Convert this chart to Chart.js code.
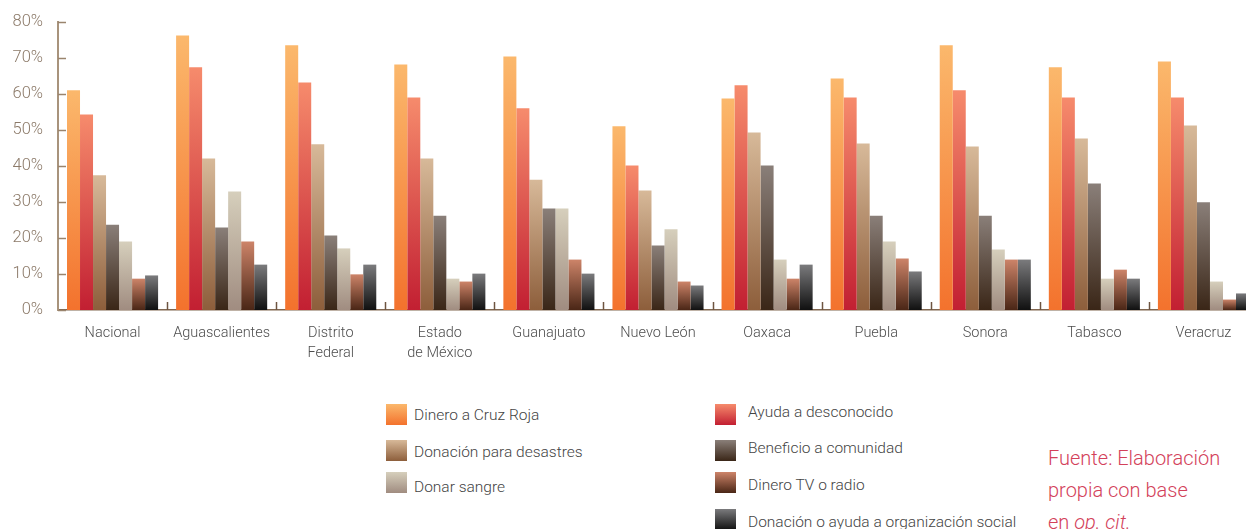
<!DOCTYPE html>
<html>
<head>
<meta charset="utf-8">
<script src="https://cdn.jsdelivr.net/npm/chart.js@4.4.1/dist/chart.umd.min.js"></script>
<style>
  html, body { margin: 0; padding: 0; background: #fff; overflow: hidden; width: 1246px; height: 529px; }
  #wrap { position: absolute; left: 0; top: -3px; width: 1262px; height: 373px; }
  .leg { position: absolute; font-family: Roboto, 'Open Sans', sans-serif; font-weight: 300; font-size: 15.5px; color: #444; }
  .leg .sw { position: absolute; width: 21px; height: 21px; }
  .leg .tx { position: absolute; white-space: nowrap; line-height: 20px; }
  #fuente { position: absolute; left: 1048px; top: 442px; font-family: Roboto, 'Open Sans', sans-serif; font-weight: 300;
            font-size: 20px; line-height: 32px; color: #d3415a; white-space: nowrap; }
</style>
</head>
<body>
<div id="wrap"><canvas id="chart"></canvas></div>
<div id="legend"></div>
<div id="fuente">Fuente: Elaboración<br>propia con base<br>en <i>op. cit.</i></div>
<script>
// categories
const estados = ['Nacional', 'Aguascalientes', ['Distrito', 'Federal'], ['Estado', 'de México'], 'Guanajuato',
                 'Nuevo León', 'Oaxaca', 'Puebla', 'Sonora', 'Tabasco', 'Veracruz'];

// series values (%)
const dineroCruzRoja   = [61, 76.2, 73.5, 68.2, 70.4, 51, 58.7, 64.3, 73.5, 67.4, 69];
const ayudaDesconocido = [54.3, 67.4, 63.2, 59, 56, 40.1, 62.4, 59, 61, 59, 59];
const donacionDesastre = [37.4, 42.1, 46, 42.1, 36.2, 33.2, 49.3, 46.2, 45.4, 47.6, 51.2];
const beneficioComun   = [23.7, 22.9, 20.7, 26.2, 28.2, 17.9, 40.1, 26.2, 26.2, 35.1, 29.9];
const donarSangre      = [19, 32.9, 17.1, 8.7, 28.2, 22.4, 14, 19, 16.8, 8.7, 7.9];
const dineroTvRadio    = [8.7, 19, 9.9, 7.9, 14, 7.9, 8.7, 14.3, 14, 11.2, 2.9];
const donacionOrgSoc   = [9.6, 12.6, 12.6, 10.1, 10.1, 6.8, 12.6, 10.7, 14, 8.7, 4.6];

const yTicks = [0, 10, 20, 30, 40, 50, 60, 70, 80];

const series = [
  { label: 'Dinero a Cruz Roja', data: dineroCruzRoja, top: '#fbb86c', bottom: '#f3722d' },
  { label: 'Ayuda a desconocido', data: ayudaDesconocido, top: '#f68b6c', bottom: '#c21f32' },
  { label: 'Donación para desastres', data: donacionDesastre, top: '#d7b999', bottom: '#8d5e3b' },
  { label: 'Beneficio a comunidad', data: beneficioComun, top: '#8a7f79', bottom: '#3a2617' },
  { label: 'Donar sangre', data: donarSangre, top: '#d6cfbc', bottom: '#a08c80' },
  { label: 'Dinero TV o radio', data: dineroTvRadio, top: '#cd8469', bottom: '#4a2616' },
  { label: 'Donación o ayuda a organización social', data: donacionOrgSoc, top: '#7b7b7d', bottom: '#101010' }
];

// vertical gradient per bar, from its top down to the baseline
function barFill(ctx, top, bottom) {
  const chart = ctx.chart;
  if (!chart.chartArea || ctx.type !== 'data') return top;
  const y = chart.scales.y;
  const y0 = y.getPixelForValue(0);
  const y1 = y.getPixelForValue(ctx.raw);
  if (!isFinite(y0) || !isFinite(y1) || y0 === y1) return top;
  const g = chart.ctx.createLinearGradient(0, y1, 0, y0);
  g.addColorStop(0, top);
  g.addColorStop(1, bottom);
  return g;
}

// short inward tick marks on both axes
const innerTicks = {
  id: 'innerTicks',
  afterDraw(chart) {
    const c = chart.ctx, x = chart.scales.x, y = chart.scales.y;
    const area = chart.chartArea;
    c.save();
    c.lineWidth = 1.5;
    c.strokeStyle = '#9a846d';
    yTicks.forEach(v => {
      const py = Math.round(y.getPixelForValue(v)) + 0.5;
      c.beginPath(); c.moveTo(area.left, py); c.lineTo(area.left + 8, py); c.stroke();
    });
    c.strokeStyle = '#6e5440';
    for (let i = 1; i < estados.length; i++) {
      const px = Math.round((x.getPixelForValue(i - 1) + x.getPixelForValue(i)) / 2) + 0.5;
      c.beginPath(); c.moveTo(px, area.bottom); c.lineTo(px, area.bottom - 8); c.stroke();
    }
    c.restore();
  }
};

new Chart(document.getElementById('chart'), {
  type: 'bar',
  data: {
    labels: estados,
    datasets: series.map(s => ({
      label: s.label,
      data: s.data,
      backgroundColor: ctx => barFill(ctx, s.top, s.bottom),
      borderWidth: 0,
      categoryPercentage: 0.835,
      barPercentage: 1.0
    }))
  },
  options: {
    responsive: true,
    maintainAspectRatio: false,
    animation: false,
    layout: { padding: { top: 18, right: 4, left: 0, bottom: 0 } },
    plugins: { legend: { display: false }, tooltip: { enabled: false } },
    scales: {
      x: {
        grid: { display: false, drawTicks: false },
        border: { display: true, color: '#80664f', width: 1.5 },
        ticks: {
          color: '#4d4d4d', padding: 14, maxRotation: 0, autoSkip: false,
          font: { family: 'Roboto, "Open Sans", sans-serif', size: 14.5, weight: 300, lineHeight: 1.35 }
        },
        afterFit: scale => { scale.height = 60; }
      },
      y: {
        min: 0, max: 80,
        grid: { display: false, drawTicks: false },
        border: { display: true, color: '#a8937c', width: 2 },
        afterBuildTicks: scale => { scale.ticks = yTicks.map(v => ({ value: v })); },
        ticks: {
          color: '#8c7a69', padding: 15,
          font: { family: 'Roboto, "Open Sans", sans-serif', size: 16.5, weight: 300 },
          callback: v => v + '%'
        },
        afterFit: scale => { scale.width = 58; }
      }
    }
  },
  plugins: [innerTicks]
});

// legend, two columns as in the original layout
const legendPos = [
  { sx: 386, sy: 404, tx: 414, ty: 405 },
  { sx: 715, sy: 404, tx: 748, ty: 402 },
  { sx: 386, sy: 440, tx: 414, ty: 442 },
  { sx: 715, sy: 440, tx: 748, ty: 438 },
  { sx: 386, sy: 472, tx: 414, ty: 477 },
  { sx: 715, sy: 472, tx: 748, ty: 475 },
  { sx: 715, sy: 509, tx: 748, ty: 512 }
];
const legendOrder = [0, 1, 2, 3, 4, 5, 6];
const legendEl = document.getElementById('legend');
legendOrder.forEach((si, k) => {
  const s = series[si], p = legendPos[k];
  const item = document.createElement('div');
  item.className = 'leg';
  item.innerHTML = '<div class="sw" style="left:' + p.sx + 'px;top:' + p.sy + 'px;background:linear-gradient(to bottom,' +
    s.top + ',' + s.bottom + ')"></div><div class="tx" style="left:' + p.tx + 'px;top:' + p.ty + 'px">' + s.label + '</div>';
  legendEl.appendChild(item);
});
</script>
</body>
</html>
